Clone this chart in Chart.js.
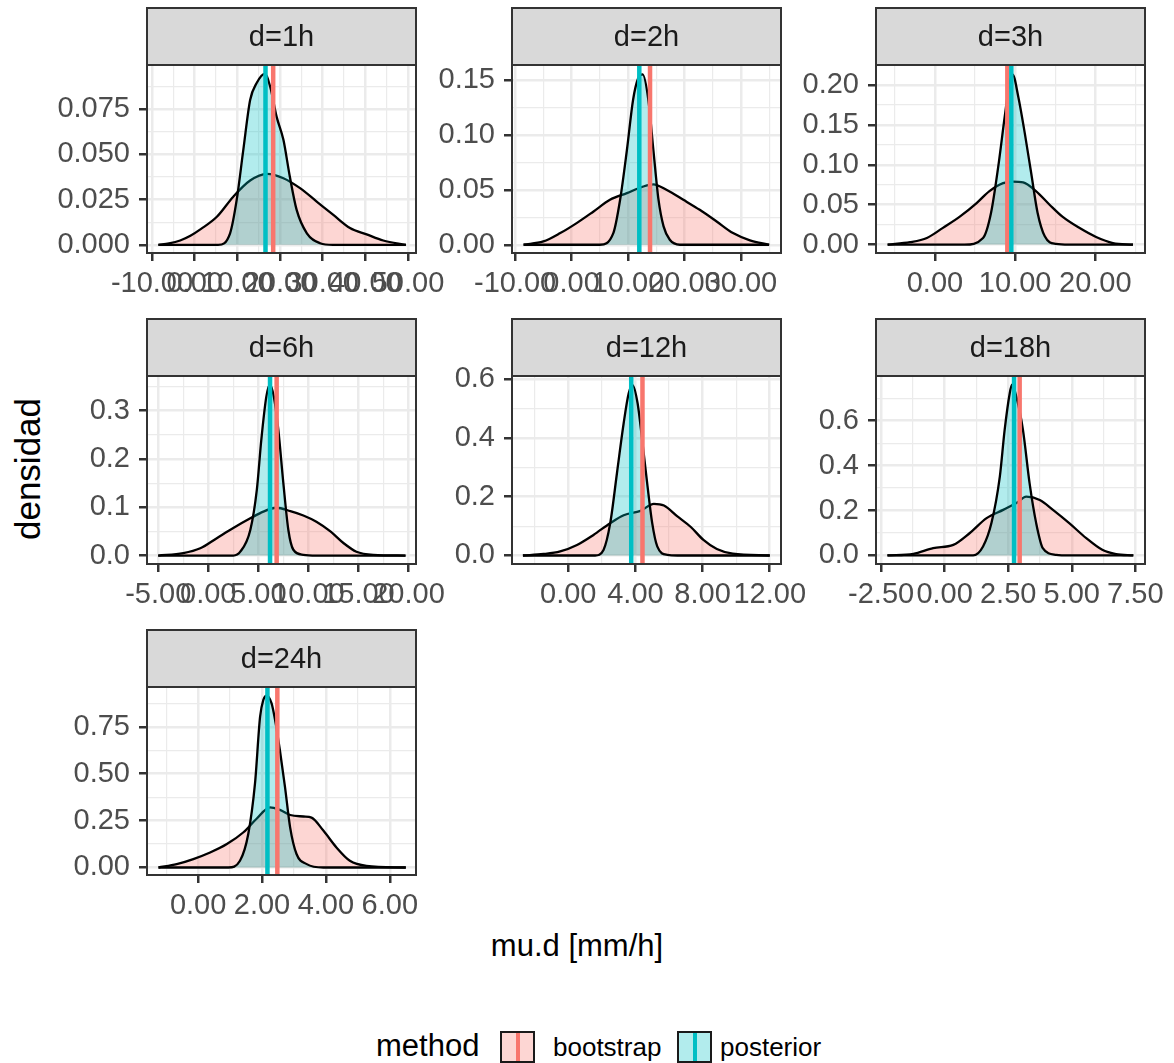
<!DOCTYPE html>
<html>
<head>
<meta charset="utf-8">
<script src="https://cdn.jsdelivr.net/npm/chart.js@4.4.0/dist/chart.umd.min.js"></script>
<style>
  body { margin: 0; background: #fff; width: 1174px; height: 1063px; position: relative; overflow: hidden;
         font-family: "Liberation Sans", Arial, sans-serif; }
  canvas { position: absolute; }
  .txt { position: absolute; white-space: nowrap; color: #000; }
  .key { position: absolute; box-sizing: border-box; border: 2px solid #1a1a1a; }
  .key span { position: absolute; top: 0; bottom: 0; left: 50%; width: 4px; margin-left: -2px; }
</style>
</head>
<body>

<div class="txt" style="left:27px;top:469px;font-size:35px;line-height:35px;transform:translate(-50%,-50%) rotate(-90deg);">densidad</div>
<div class="txt" style="left:577px;top:930px;font-size:31px;line-height:31px;transform:translateX(-50%);">mu.d [mm/h]</div>

<div class="txt" style="left:376px;top:1030px;font-size:31px;line-height:31px;">method</div>
<div class="key" style="left:500px;top:1031px;width:35px;height:32px;background:rgba(248,118,109,0.3);"><span style="background:#F8766D"></span></div>
<div class="txt" style="left:553px;top:1034px;font-size:26px;line-height:26px;">bootstrap</div>
<div class="key" style="left:677px;top:1031px;width:35px;height:32px;background:rgba(0,191,196,0.3);"><span style="background:#00BFC4"></span></div>
<div class="txt" style="left:720px;top:1034px;font-size:26px;line-height:26px;">posterior</div>

<script>
// facet labels
const durations = ['d=1h', 'd=2h', 'd=3h', 'd=6h', 'd=12h', 'd=18h', 'd=24h'];

// density curves, [mu.d, density]
const boot1h = [[-8.5,0],[-6,0.0008],[-3.4,0.0024],[-1,0.005],[1.5,0.0088],[5.2,0.0155],[9.05,0.0266],[13,0.0355],[16.9,0.0392],[20.8,0.0368],[24.7,0.0313],[28.6,0.0239],[32.5,0.0165],[36.4,0.0093],[40.3,0.0058],[44.2,0.0024],[49.5,0]];
const post1h = [[-8.5,0],[5.5,0],[8.3,0.0064],[9.85,0.0248],[11.4,0.0524],[13,0.08],[14.5,0.0892],[16.5,0.0945],[17.7,0.0873],[19.2,0.0708],[20.8,0.058],[22.3,0.0377],[23.9,0.0193],[26.3,0.0064],[29.4,0.0009],[32.4,0],[49.5,0]];

const boot2h = [[-8.5,0],[-5,0.003],[-2,0.0106],[0.9,0.0197],[3.9,0.0303],[6.8,0.0409],[9.8,0.047],[12.7,0.053],[14.5,0.055],[16.8,0.05],[19.8,0.0409],[22.7,0.0318],[25.7,0.0212],[28.6,0.0106],[31.6,0.004],[35,0]];
const post2h = [[-8.5,0],[5,0],[7.4,0.0106],[8.6,0.041],[9.8,0.086],[10.9,0.132],[11.8,0.1515],[12.6,0.155],[13.6,0.132],[14.5,0.086],[15.4,0.041],[16.3,0.0167],[17.4,0.0045],[19.2,0],[35,0]];

const boot3h = [[-5.9,0],[-3.1,0.003],[-1,0.0083],[1,0.021],[3.1,0.035],[5.2,0.052],[6.8,0.067],[8.5,0.077],[9.7,0.079],[11,0.078],[12.6,0.067],[14.3,0.05],[15.9,0.035],[18,0.021],[20.1,0.0096],[22.2,0.002],[24.7,0]];
const post3h = [[-5.9,0],[3.7,0],[6,0.0083],[7,0.04],[7.9,0.098],[8.7,0.16],[9.3,0.202],[9.7,0.213],[10.4,0.185],[11.2,0.14],[12,0.09],[12.8,0.04],[13.7,0.0104],[15.1,0.001],[16.7,0],[24.7,0]];

const boot6h = [[-5,0],[-2.5,0.005],[-0.8,0.015],[0.85,0.036],[2.5,0.057],[4.2,0.077],[5.5,0.091],[6.8,0.099],[8.2,0.092],[9.5,0.083],[10.8,0.07],[12.2,0.05],[13.5,0.026],[14.8,0.008],[16.5,0.0015],[19.7,0]];
const post6h = [[-5,0],[2.5,0],[3.2,0.008],[4.2,0.053],[4.85,0.136],[5.3,0.24],[5.8,0.329],[6.15,0.354],[6.55,0.329],[7,0.26],[7.5,0.15],[8,0.053],[8.5,0.012],[9.5,0.0015],[10.8,0],[19.7,0]];

const boot12h = [[-2.7,0],[-1.47,0.005],[-0.48,0.014],[0.52,0.036],[1.5,0.07],[2.5,0.11],[3.3,0.137],[4.3,0.152],[5.1,0.176],[5.7,0.17],[6.5,0.133],[7.3,0.097],[8.05,0.053],[8.85,0.022],[9.8,0.006],[12,0]];
const post12h = [[-2.7,0],[1.6,0],[2.1,0.019],[2.5,0.11],[2.9,0.28],[3.3,0.45],[3.6,0.552],[3.83,0.58],[4.13,0.518],[4.4,0.394],[4.7,0.246],[5,0.11],[5.3,0.031],[5.9,0.002],[6.5,0],[12,0]];

const boot18h = [[-2.25,0],[-1.23,0.0075],[-0.45,0.033],[0.34,0.047],[0.99,0.1],[1.65,0.166],[2.3,0.203],[2.82,0.233],[3.21,0.262],[3.74,0.247],[4.26,0.203],[4.9,0.144],[5.57,0.077],[6.2,0.025],[6.74,0.006],[7.42,0]];
const post18h = [[-2.25,0],[1.12,0],[1.51,0.04],[1.84,0.144],[2.17,0.351],[2.36,0.559],[2.56,0.722],[2.65,0.76],[2.82,0.707],[3.08,0.559],[3.34,0.322],[3.6,0.144],[3.86,0.033],[4.39,0.003],[4.9,0],[7.42,0]];

const boot24h = [[-1.24,0],[-0.67,0.018],[-0.15,0.045],[0.375,0.08],[0.9,0.125],[1.42,0.188],[1.83,0.26],[2.25,0.321],[2.56,0.307],[2.88,0.28],[3.3,0.272],[3.55,0.266],[3.92,0.197],[4.33,0.107],[4.75,0.036],[5.27,0.009],[6.5,0]];
const post24h = [[-1.24,0],[0.95,0],[1.31,0.036],[1.57,0.179],[1.78,0.447],[1.94,0.804],[2.04,0.893],[2.15,0.917],[2.3,0.875],[2.41,0.786],[2.56,0.625],[2.72,0.429],[2.88,0.214],[3.08,0.072],[3.4,0.018],[3.92,0],[6.5,0]];

const bootCurves = [boot1h, boot2h, boot3h, boot6h, boot12h, boot18h, boot24h];
const postCurves = [post1h, post2h, post3h, post6h, post12h, post18h, post24h];

// mean lines
const bootMean = [18.4, 13.9, 9.03, 6.83, 4.42, 2.95, 2.48];
const postMean = [16.6, 12.0, 9.53, 6.17, 3.75, 2.73, 2.17];

// tick labels
const xTicks = [[-10,0,10,20,30,40,50], [-10,0,10,20,30], [0,10,20], [-5,0,5,10,15,20], [0,4,8,12], [-2.5,0,2.5,5,7.5], [0,2,4,6]];
const yTicks = [[0,0.025,0.05,0.075], [0,0.05,0.1,0.15], [0,0.05,0.1,0.15,0.2], [0,0.1,0.2,0.3], [0,0.2,0.4,0.6], [0,0.2,0.4,0.6], [0,0.25,0.5,0.75]];
const yDecimals = [3, 2, 2, 1, 1, 1, 2];

// axis limits (free scales per facet)
const xLimits = [[-11.17,51.87], [-10.55,37.1], [-7.35,26.2], [-6.12,20.75], [-3.35,12.67], [-2.7,7.88], [-1.6,6.82]];
const yLimits = [[-0.0045,0.0993], [-0.0075,0.1636], [-0.0105,0.225], [-0.0175,0.3718], [-0.029,0.611], [-0.038,0.7987], [-0.04,0.9625]];

const FONT = '"Liberation Sans", Arial, sans-serif';
const colLeft = [147, 512, 876];
const rowTop = [65, 376, 687];
const plotW = 269, plotH = 188, stripH = 57;
const axisW = 147, axisH = 50, padR = 50, padT = 8 + stripH;

function withMinor(major, lo, hi) {
  const step = major[1] - major[0];
  const out = [];
  for (let v = major[0] - step; v <= major[major.length - 1] + step + 1e-9; v += step / 2) {
    const r = Math.round(v * 1e6) / 1e6;
    if (r >= lo && r <= hi) out.push(r);
  }
  return out;
}
function isMajor(list, v) {
  return list.some(t => Math.abs(t - v) < 1e-7);
}

const facetFrame = {
  id: 'facetFrame',
  afterDatasetsDraw(chart, args, opts) {
    const ctx = chart.ctx, a = chart.chartArea;
    ctx.save();
    ctx.fillStyle = '#D9D9D9';
    ctx.fillRect(a.left, a.top - stripH, a.right - a.left, stripH);
    ctx.strokeStyle = '#333333';
    ctx.lineWidth = 2;
    ctx.strokeRect(a.left, a.top - stripH, a.right - a.left, stripH);
    ctx.strokeRect(a.left, a.top, a.right - a.left, a.bottom - a.top);
    ctx.fillStyle = '#1A1A1A';
    ctx.font = '29px ' + FONT;
    ctx.textAlign = 'center';
    ctx.textBaseline = 'middle';
    ctx.fillText(opts.label, (a.left + a.right) / 2, a.top - stripH / 2 + 1);
    ctx.restore();
  }
};

durations.forEach((name, p) => {
  const L = colLeft[p % 3], T = rowTop[Math.floor(p / 3)];
  const canvas = document.createElement('canvas');
  canvas.width = axisW + plotW + padR;
  canvas.height = padT + plotH + axisH;
  canvas.style.left = (L - axisW) + 'px';
  canvas.style.top = (T - padT) + 'px';
  document.body.appendChild(canvas);

  const [xMin, xMax] = xLimits[p];
  const [yMin, yMax] = yLimits[p];
  const xAll = withMinor(xTicks[p], xMin, xMax);
  const yAll = withMinor(yTicks[p], yMin, yMax);

  const gridCommon = (major) => ({
    color: '#EBEBEB',
    lineWidth: c => isMajor(major, c.tick.value) ? 2.5 : 1.2,
    tickColor: c => isMajor(major, c.tick.value) ? '#333333' : 'rgba(0,0,0,0)',
    tickWidth: 2.5,
    tickLength: 8
  });

  new Chart(canvas.getContext('2d'), {
    type: 'line',
    data: {
      datasets: [
        {
          data: bootCurves[p].map(([x, y]) => ({x, y})),
          borderColor: '#000', borderWidth: 2.3,
          backgroundColor: 'rgba(248,118,109,0.3)', fill: 'origin',
          pointRadius: 0, cubicInterpolationMode: 'monotone', order: 4
        },
        {
          data: postCurves[p].map(([x, y]) => ({x, y})),
          borderColor: '#000', borderWidth: 2.3,
          backgroundColor: 'rgba(0,191,196,0.3)', fill: 'origin',
          pointRadius: 0, cubicInterpolationMode: 'monotone', order: 3
        },
        {
          data: [{x: bootMean[p], y: yMin}, {x: bootMean[p], y: yMax}],
          borderColor: '#F8766D', borderWidth: 4.5, pointRadius: 0, fill: false, order: 2
        },
        {
          data: [{x: postMean[p], y: yMin}, {x: postMean[p], y: yMax}],
          borderColor: '#00BFC4', borderWidth: 4.5, pointRadius: 0, fill: false, order: 1
        }
      ]
    },
    options: {
      responsive: false,
      animation: false,
      devicePixelRatio: 1,
      layout: { padding: { top: padT, right: padR, left: 0, bottom: 0 } },
      plugins: {
        legend: { display: false },
        tooltip: { enabled: false },
        facetFrame: { label: name }
      },
      scales: {
        x: {
          type: 'linear', min: xMin, max: xMax,
          afterBuildTicks: s => { s.ticks = xAll.map(v => ({value: v})); },
          afterFit: s => { s.height = axisH; s.paddingLeft = 0; s.paddingRight = 0; },
          border: { display: false },
          grid: gridCommon(xTicks[p]),
          ticks: {
            autoSkip: false, maxRotation: 0, minRotation: 0, padding: 6,
            color: '#4D4D4D', font: { size: 29, family: FONT },
            callback: v => isMajor(xTicks[p], v) ? v.toFixed(2) : ''
          }
        },
        y: {
          type: 'linear', min: yMin, max: yMax,
          afterBuildTicks: s => { s.ticks = yAll.map(v => ({value: v})); },
          afterFit: s => { s.width = axisW; s.paddingTop = 0; s.paddingBottom = 0; },
          border: { display: false },
          grid: gridCommon(yTicks[p]),
          ticks: {
            autoSkip: false, padding: 9,
            color: '#4D4D4D', font: { size: 29, family: FONT },
            callback: v => isMajor(yTicks[p], v) ? v.toFixed(yDecimals[p]) : ''
          }
        }
      }
    },
    plugins: [facetFrame]
  });
});
</script>
</body>
</html>
